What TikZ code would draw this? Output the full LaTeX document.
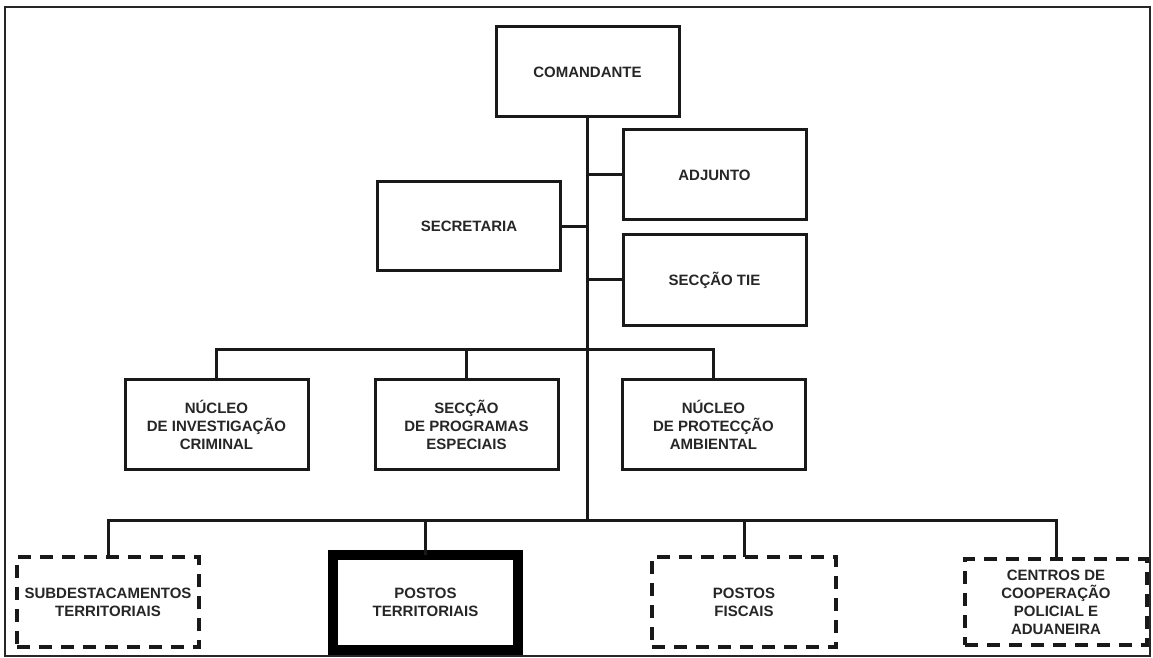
\documentclass[tikz,border=0pt]{standalone}
\usepackage{fontspec}
\setmainfont{Liberation Sans}
\usepackage{tikz}
\usetikzlibrary{positioning}

\begin{document}
\begin{tikzpicture}[x=0.5pt, y=-0.5pt]
  \tikzset{UnitBox/.style = {shape          = rectangle,
                             draw           = black!90,
                             line width     = 1.5pt,
                             text           = black!85,
                             align          = center,
                             font           = \bfseries\fontsize{7.5pt}{9pt}\selectfont,
                             inner sep      = 0pt,
                             outer sep      = 0pt,
                             minimum width  = 91.5pt,
                             minimum height = 45pt},
           DashedBox/.style = {UnitBox, line width=2pt, dash pattern=on 6.5pt off 4.5pt},
           KeyBox/.style    = {UnitBox, line width=5pt, draw=black, minimum width=92.5pt, minimum height=47.5pt},
           Link/.style      = {draw=black!90, line width=1.5pt}}
  \useasboundingbox (0,0) rectangle (1153,658);
  \draw[black!85, line width=1pt] (5,7) rectangle (1150,656);
  \begin{scope}
	%%% COMMANDEMENT %%%
	\node[UnitBox](chief) at (587.5,72){COMANDANTE};
	\node[UnitBox](adjunto) at (714.5,175){ADJUNTO};
	\node[UnitBox, below=7.5pt of adjunto](tie){SECÇÃO TIE};
	\node[UnitBox, minimum height=44.5pt](secretaria) at (469,226.5){SECRETARIA};
	%%% NUCLEOS %%%
	\node[UnitBox](nic) at (216.5,424.5){NÚCLEO\\DE INVESTIGAÇÃO\\CRIMINAL};
	\node[UnitBox, right=33.5pt of nic](spe){SECÇÃO\\DE PROGRAMAS\\ESPECIAIS};
	\node[UnitBox, right=32pt of spe](npa){NÚCLEO\\DE PROTECÇÃO\\AMBIENTAL};
	%%% POSTOS %%%
	\node[DashedBox, minimum width=91pt](sub) at (108,602){SUBDESTACAMENTOS\\TERRITORIAIS};
	\node[KeyBox, right=67pt of sub](pt){POSTOS\\TERRITORIAIS};
	\node[DashedBox, right=67pt of pt, minimum width=92pt](pf){POSTOS\\FISCAIS};
	\node[DashedBox, right=64.5pt of pf, minimum width=91pt, minimum height=43pt](ccpa){CENTROS DE\\COOPERAÇÃO\\POLICIAL E\\ADUANEIRA};
	%% LIGNES
	\coordinate (bus1) at (587.5,349);
	\coordinate (bus2) at (587.5,520);
	\draw[Link] (chief.south) -- (bus2);
	\draw[Link] (adjunto.west) -- (adjunto.west -| chief.south);
	\draw[Link] (tie.west) -- (tie.west -| chief.south);
	\draw[Link] (secretaria.east) -- (secretaria.east -| chief.south);
	\draw[Link] (nic.north) |- (bus1) -| (npa.north);
	\draw[Link] (spe.north) -- (spe.north |- bus1);
	\draw[Link] (sub.north) |- (bus2) -| (ccpa.north);
	\draw[Link] (pt.north) -- (pt.north |- bus2);
	\draw[Link] (pf.north) -- (pf.north |- bus2);
  \end{scope}
\end{tikzpicture}
\end{document}
